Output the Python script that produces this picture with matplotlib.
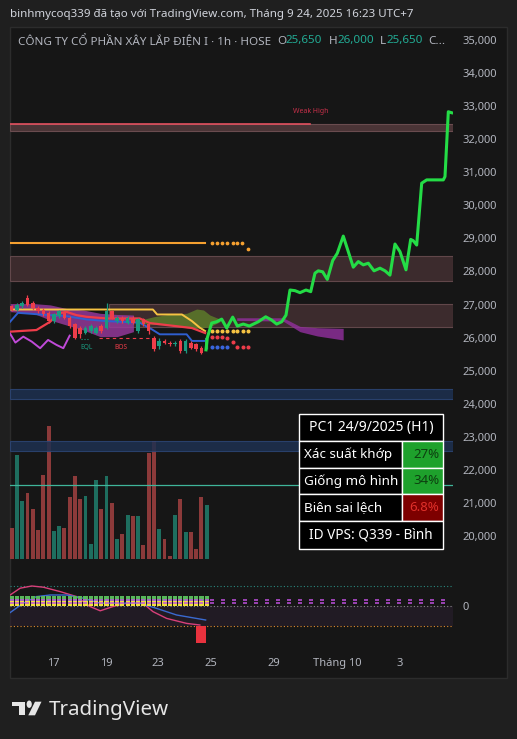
import numpy as np
import matplotlib
matplotlib.use("Agg")
import matplotlib.pyplot as plt
from matplotlib.patches import Rectangle, Polygon, Circle

plt.rcParams["font.family"] = ["Noto Sans", "DejaVu Sans"]

W, H = 517, 739

# ---- nến 1h PC1 (38 nến cuối) ----
opens = [26950, 26850, 26950, 27200, 27050, 26900, 26850, 26750, 26500, 26650,
         26750, 26600, 26400, 26300, 26150, 26200, 26150, 26350, 26300, 26800,
         26500, 26600, 26450, 26600, 26200, 26550, 26400, 26000, 25750, 25900,
         25850, 25800, 25900, 25600, 25850, 25800, 25700, 25650]
closes = [26850, 27000, 27050, 27000, 26900, 26800, 26700, 26500, 26700, 26800,
          26600, 26350, 26000, 26100, 26300, 26350, 26300, 26200, 26800, 26600,
          26600, 26500, 26600, 26450, 26550, 26400, 26200, 25650, 25900, 25850,
          25800, 25850, 25600, 25900, 25700, 25650, 25550, 26000]
highs = [27000, 27050, 27100, 27300, 27100, 26950, 26900, 26800, 26750, 26850,
         26800, 26650, 26450, 26350, 26350, 26400, 26350, 26400, 27050, 26850,
         26650, 26650, 26650, 26650, 26600, 26600, 26450, 26050, 26000, 25950,
         25900, 25900, 25950, 25950, 25900, 25850, 25750, 26000]
lows = [26800, 26800, 26900, 26950, 26850, 26750, 26650, 26450, 26450, 26600,
        26550, 26300, 25950, 26000, 26100, 26150, 26100, 26150, 26250, 26550,
        26450, 26450, 26400, 26400, 26150, 26350, 26100, 25600, 25650, 25800,
        25750, 25750, 25550, 25550, 25650, 25600, 25500, 25650]
volumes = [307, 1040, 583, 663, 503, 290, 840, 1333, 280, 330,
           313, 623, 830, 603, 630, 150, 790, 503, 830, 563,
           203, 250, 440, 430, 430, 143, 1063, 1180, 300, 200,
           33, 440, 603, 270, 270, 100, 620, 540]

# ---- đường dự phóng (xanh lá) ----
proj_x = [36.87, 37.11, 37.95, 38.90, 39.85, 40.80, 41.94, 42.81, 43.95, 45.09,
          46.79, 48.20, 49.34, 50.28, 51.23, 52.05, 52.81, 53.76, 54.71, 55.84,
          56.74, 57.55, 58.18, 59.01, 59.89, 60.91, 61.78, 62.92, 63.87, 64.82,
          65.77, 66.72, 67.67, 68.75, 69.89, 70.84, 71.78, 72.73, 73.68, 74.82,
          75.71, 76.20, 76.85, 77.80, 78.75, 81.90, 82.22, 82.85, 83.49]
proj_y = [25630, 25990, 26440, 26480, 26560, 26290, 26620, 26350, 26410, 26350,
          26480, 26630, 26530, 26410, 26480, 26680, 27440, 27420, 27360, 27440,
          27390, 27950, 28020, 27990, 27760, 28330, 28550, 29070, 28600, 28130,
          28300, 28200, 28250, 28020, 28100, 28020, 27890, 28830, 28600, 28050,
          28970, 28930, 28800, 30670, 30770, 30770, 30870, 32830, 32800]

# ---- các đường chỉ báo ----
yellow_x = [-0.3, 26.8, 27.6, 32.3, 34.2, 35.7, 36.7]
yellow_y = [26850, 26850, 26700, 26700, 26500, 26300, 26200]
yellow_dot_x = [38.0, 38.9, 39.9, 40.8, 41.9, 42.8, 43.8, 44.9]
yellow_dot_y = [26200] * 8
red_x = [-0.3, 4.7, 7.3, 8.8, 10.4, 12.3, 14.2, 18.0, 24.3, 26.2, 34.2, 36.7]
red_y = [26180, 26230, 26480, 26730, 26780, 26680, 26630, 26580, 26580, 26440, 26290, 26140]
red_dot_x = [38.0, 38.9, 39.9, 40.8, 41.9, 42.8, 43.8, 44.9]
red_dot_y = [26030, 26030, 26030, 25980, 25880, 25730, 25730, 25730]
blue_x = [-0.3, 1.2, 5.4, 10.4, 14.2, 18.0, 24.3, 26.6, 28.1, 33.2, 34.2, 36.7]
blue_y = [26480, 26750, 26700, 26650, 26550, 26500, 26450, 26250, 26100, 26100, 25900, 25900]
blue_dot_x = [38.0, 38.9, 39.9, 40.8]
blue_dot_y = [25710] * 4
purple_x = [-0.3, 0.7, 2.2, 3.8, 5.4, 6.9, 8.5, 9.8, 11.0]
purple_y = [26120, 25850, 26030, 25880, 25680, 25930, 25780, 25680, 26060]
orange_x = [-0.3, 36.7]
orange_y = [28850, 28850]
orange_dot_x = [37.95, 38.9, 39.85, 40.8, 41.94, 42.81, 43.76, 44.9]
orange_dot_y = [28850, 28850, 28850, 28850, 28850, 28850, 28850, 28670]

cloud1_x = [-0.3, 4.1, 7.3, 10.4, 13.6, 16.8, 20.0, 23.1]
cloud1_top = [27030, 27030, 26990, 26880, 26835, 26735, 26700, 26684]
cloud1_bot = [26785, 26735, 26530, 26380, 26230, 26030, 26030, 26180]
cloud2_x = [23.1, 24.4, 26.9, 30.0, 33.2, 35.1, 36.4, 37.6, 39.5]
cloud2_top = [26600, 26530, 26630, 26710, 26735, 26865, 26835, 26684, 26560]
cloud2_bot = [26500, 26430, 26400, 26380, 26300, 26280, 26300, 26330, 26480]
cloud3_x = [42.7, 51.5, 54.7, 58.0, 62.9]
cloud3_top = [26600, 26600, 26340, 26300, 26280]
cloud3_bot = [26520, 26500, 26180, 26050, 25930]

# ---- vùng cung/cầu ----
weak_high = (32250, 32460)
supply_zones = [(27710, 28470, -0.3), (26320, 27020, 18.4)]
demand_zones = [(24140, 24450), (22570, 22870)]
teal_level = 21540

# ---- dao động ----
osc_pink_x = [-0.3, 1.6, 3.8, 6.0, 9.2, 12.3, 14.9, 16.8, 19.2, 21.8, 24.9, 26.8, 29.4, 33.2, 35.7]
osc_pink_y = [0.55, 0.89, 1.0, 0.94, 0.72, 0.47, -0.03, -0.24, -0.03, 0.14, 0.14, -0.28, -0.62, -0.87, -0.95]
osc_blue_x = [-0.3, 2.2, 4.7, 7.3, 10.4, 13.6, 16.8, 19.9, 24.3, 27.5, 31.3, 36.8]
osc_blue_y = [-0.33, 0.14, 0.47, 0.55, 0.55, 0.39, 0.14, 0.14, 0.14, -0.12, -0.45, -0.70]
osc_hist = (35.9, -1.0, -1.85)

date_pos = [7.84, 17.9, 27.8, 37.8, 49.8, 61.7, 73.7]
date_labels = ["17", "19", "23", "25", "29", "Tháng 10", "3"]

table_rows = [("Xác suất khớp", "27%", "#1ea12c", "#0d3f10"),
              ("Giống mô hình", "34%", "#1ea12c", "#0d3f10"),
              ("Biên sai lệch", "6.8%", "#7d0000", "#e0302a")]

UP, DN = "#1a9a80", "#ee3d4a"
VUP, VDN = "#1e6e5f", "#8c3a3a"
TXT = "#b2b5be"


def fx(px):
    return px / W


def fy(py):
    return 1 - py / H


fig = plt.figure(figsize=(W / 100, H / 100), dpi=100, facecolor="#1f1f1f")
fig.add_artist(Rectangle((fx(10), fy(678)), fx(497), 651 / H, transform=fig.transFigure,
                         fc="#161616", ec="#2c2c2c", lw=1, zorder=-2))

# ---- khung chính ----
ax = fig.add_axes([fx(10), fy(565), fx(443), 537 / H])
axv = ax.twinx()
ax.set_zorder(axv.get_zorder() + 1)
ax.patch.set_visible(False)
xlim = (-0.32, 83.74)
ax.set_xlim(*xlim)
ax.set_ylim(19124, 35363)
axv.set_ylim(-60, 5310)
axv.axis("off")

n = len(opens)
idx = np.arange(n)
up = np.array(closes) >= np.array(opens)
axv.bar(idx, volumes, width=0.74, color=[VUP if u else VDN for u in up])

# zones
ax.add_patch(Rectangle((xlim[0], weak_high[0]), xlim[1] - xlim[0], weak_high[1] - weak_high[0],
                       fc="#4a3436", ec="#6a4c4f", lw=0.8, zorder=1))
ax.plot([xlim[0], 56.6], [weak_high[1]] * 2, color="#e2505e", lw=1.2, zorder=2)
ax.text(56.8, weak_high[1] + 380, "Weak High", color="#c8304a", fontsize=5, ha="center", va="center")
for lo, hi, x0 in supply_zones:
    ax.add_patch(Rectangle((x0, lo), xlim[1] - x0, hi - lo, fc="#3f2d2f", ec="#654a4d",
                           lw=0.8, alpha=0.95, zorder=1))
for lo, hi in demand_zones:
    ax.add_patch(Rectangle((xlim[0], lo), xlim[1] - xlim[0], hi - lo, fc="#1e3050", ec="#2c4676",
                           lw=0.8, alpha=0.85, zorder=3))
ax.axhline(teal_level, color="#3fb59a", lw=0.9, zorder=2)

# clouds
ax.fill_between(cloud1_x, cloud1_bot, cloud1_top, color="#9a3aa0", alpha=0.8, lw=0, zorder=2)
ax.fill_between(cloud2_x, cloud2_bot, cloud2_top, color="#5d7a2a", alpha=0.85, lw=0, zorder=2)
ax.fill_between(cloud3_x, cloud3_bot, cloud3_top, color="#93309f", alpha=0.8, lw=0, zorder=2)

# lines
ax.plot(orange_x, orange_y, color="#f5a030", lw=1.5, zorder=4)
ax.plot(orange_dot_x, orange_dot_y, ls="none", marker="o", ms=1.7, color="#f5a030", zorder=4)
ax.plot(yellow_x, yellow_y, color="#f6c343", lw=1.4, zorder=4)
ax.plot(red_x, red_y, color="#ee3d4a", lw=1.6, zorder=4)
ax.plot(blue_x, blue_y, color="#2f5fd0", lw=1.4, zorder=4)
ax.plot(purple_x, purple_y, color="#c04ad8", lw=1.4, zorder=4)
ax.plot(yellow_dot_x, yellow_dot_y, ls="none", marker="o", ms=1.9, color="#f6c343", zorder=4)
ax.plot(red_dot_x, red_dot_y, ls="none", marker="o", ms=1.9, color="#ee3d4a", zorder=4)
ax.plot(blue_dot_x, blue_dot_y, ls="none", marker="o", ms=1.9, color="#3a66e0", zorder=4)

# candles
cc = [UP if u else DN for u in up]
ax.vlines(idx, lows, highs, colors=cc, lw=0.9, zorder=5)
body_lo = np.minimum(opens, closes)
body_h = np.maximum(np.abs(np.array(closes) - np.array(opens)), 40)
ax.bar(idx, body_h, bottom=body_lo, width=0.68, color=cc, zorder=5)

ax.plot([13.2, 14.4], [25950, 25950], color="#1a9a80", lw=0.8, ls=":", zorder=4)
ax.text(14.2, 25700, "EQL", color="#1a9a80", fontsize=4.8, ha="center", va="center")
ax.plot([16.5, 26.5], [25980, 25980], color="#ee3d4a", lw=0.8, ls=(0, (3, 3)), zorder=4)
ax.text(20.8, 25700, "BOS", color="#ee3d4a", fontsize=4.8, ha="center", va="center")

ax.plot(proj_x, proj_y, color="#24dc46", lw=2.2, solid_joinstyle="round", zorder=6)

ax.yaxis.tick_right()
ax.set_yticks(range(20000, 35001, 1000))
ax.set_yticklabels([f"{v:,}" for v in range(20000, 35001, 1000)])
ax.tick_params(axis="y", length=0, pad=6.5, labelsize=8, labelcolor=TXT)
for s in ax.spines.values():
    s.set_visible(False)

# ---- khung dao động ----
ao = fig.add_axes([fx(10), fy(650), fx(443), 80 / H], sharex=ax)
ao.patch.set_visible(False)
ao.set_ylim(-2.2, 1.8)
ao.axhspan(-1.0, 0.0, color="#2a1f2e", alpha=0.6, lw=0)
ao.axhline(1.0, color="#2a8a80", lw=0.8, ls=(0, (1, 2)))
ao.axhline(0.0, color="#8a8a8a", lw=0.8, ls=(0, (1, 2)))
ao.axhline(-1.0, color="#e08a30", lw=0.8, ls=(0, (1, 2)))
ao.plot(osc_pink_x, osc_pink_y, color="#d8407a", lw=1.0, zorder=3)
ao.plot(osc_blue_x, osc_blue_y, color="#3a6ad0", lw=1.0, zorder=3)
ao.bar(idx, 0.25, bottom=0.25, width=0.8, color="#58b85a", zorder=4)
ao.bar(idx, 0.25, bottom=0.0, width=0.8, color="#f0e23c", zorder=4)
eq_x = np.concatenate([idx, np.arange(38.0, 83.5, 2.09)])
for lvl in (0.3, 0.13):
    ao.plot(eq_x, [lvl] * len(eq_x), ls="none", marker="_", ms=3.5, mew=1.1,
            color="#c050e0", zorder=5)
ao.bar(osc_hist[0], osc_hist[2] - osc_hist[1], bottom=osc_hist[1], width=2.0,
       color="#e8323e", zorder=4)
ao.yaxis.tick_right()
ao.set_yticks([0])
ao.set_yticklabels(["0"])
ao.tick_params(axis="y", length=0, pad=6.5, labelsize=8, labelcolor=TXT)
ao.set_xticks(date_pos)
ao.set_xticklabels(date_labels)
ao.tick_params(axis="x", length=0, pad=6, labelsize=8, labelcolor=TXT)
for s in ao.spines.values():
    s.set_visible(False)
ax.tick_params(axis="x", length=0, labelbottom=False)

# ---- tiêu đề ----
fig.text(fx(10), fy(14), "binhmycoq339 đã tạo với TradingView.com, Tháng 9 24, 2025 16:23 UTC+7",
         color="#d1d4dc", fontsize=8.3, va="center", ha="left")
head = [(18, "CÔNG TY CỔ PHẦN XÂY LẮP ĐIỆN I · 1h · HOSE", TXT),
        (277.5, "O", TXT), (285.5, "25,650", "#22ab94"),
        (329, "H", TXT), (337.5, "26,000", "#22ab94"),
        (380, "L", TXT), (386.5, "25,650", "#22ab94"),
        (428, "C...", TXT)]
for px, s, c in head:
    fig.text(fx(px), fy(41), s, color=c, fontsize=8.4, va="center", ha="left")

# ---- bảng ----
def cell(x0, y0, x1, y1, fc):
    fig.add_artist(Rectangle((fx(x0), fy(y1)), (x1 - x0) / W, (y1 - y0) / H,
                             transform=fig.transFigure, fc=fc, ec="white", lw=1, zorder=10))


tx0, tx1, tsplit = 299, 443, 402
rows_y = [414, 441, 468, 494, 521, 549]
cell(tx0, rows_y[0], tx1, rows_y[1], "black")
fig.text(fx((tx0 + tx1) / 2), fy((rows_y[0] + rows_y[1]) / 2), "PC1 24/9/2025 (H1)",
         color="white", fontsize=10, ha="center", va="center", zorder=11)
for i, (lab, val, fc, tc) in enumerate(table_rows):
    y0, y1 = rows_y[i + 1], rows_y[i + 2]
    cell(tx0, y0, tsplit, y1, "black")
    cell(tsplit, y0, tx1, y1, fc)
    fig.text(fx(tx0 + 5), fy((y0 + y1) / 2), lab, color="white", fontsize=9.7,
             ha="left", va="center", zorder=11)
    fig.text(fx(tx1 - 4), fy((y0 + y1) / 2), val, color=tc, fontsize=9.5,
             ha="right", va="center", zorder=11)
cell(tx0, rows_y[4], tx1, rows_y[5], "black")
fig.text(fx((tx0 + tx1) / 2), fy((rows_y[4] + rows_y[5]) / 2), "ID VPS: Q339 - Bình",
         color="white", fontsize=9.8, ha="center", va="center", zorder=11)

# ---- logo ----
logo = "#e6e6e6"
fig.add_artist(Rectangle((fx(11.7), fy(706.3)), 13.3 / W, 4.6 / H, transform=fig.transFigure,
                         fc=logo, ec="none"))
fig.add_artist(Rectangle((fx(18.5), fy(715.3)), 6.5 / W, 13.6 / H, transform=fig.transFigure,
                         fc=logo, ec="none"))
fig.add_artist(Circle((fx(29.2), fy(704.2)), 2.6 / W, transform=fig.transFigure, fc=logo, ec="none"))
fig.add_artist(Polygon([(fx(35), fy(701.7)), (fx(41.5), fy(701.7)), (fx(35), fy(715.3)),
                        (fx(28.3), fy(715.3))], closed=True, transform=fig.transFigure,
                       fc=logo, ec="none"))
fig.text(fx(48.5), fy(715.5), "TradingView", color=logo, fontsize=14.8, fontweight="bold",
         ha="left", va="baseline")

fig.savefig("out.png", dpi=100, facecolor=fig.get_facecolor())
